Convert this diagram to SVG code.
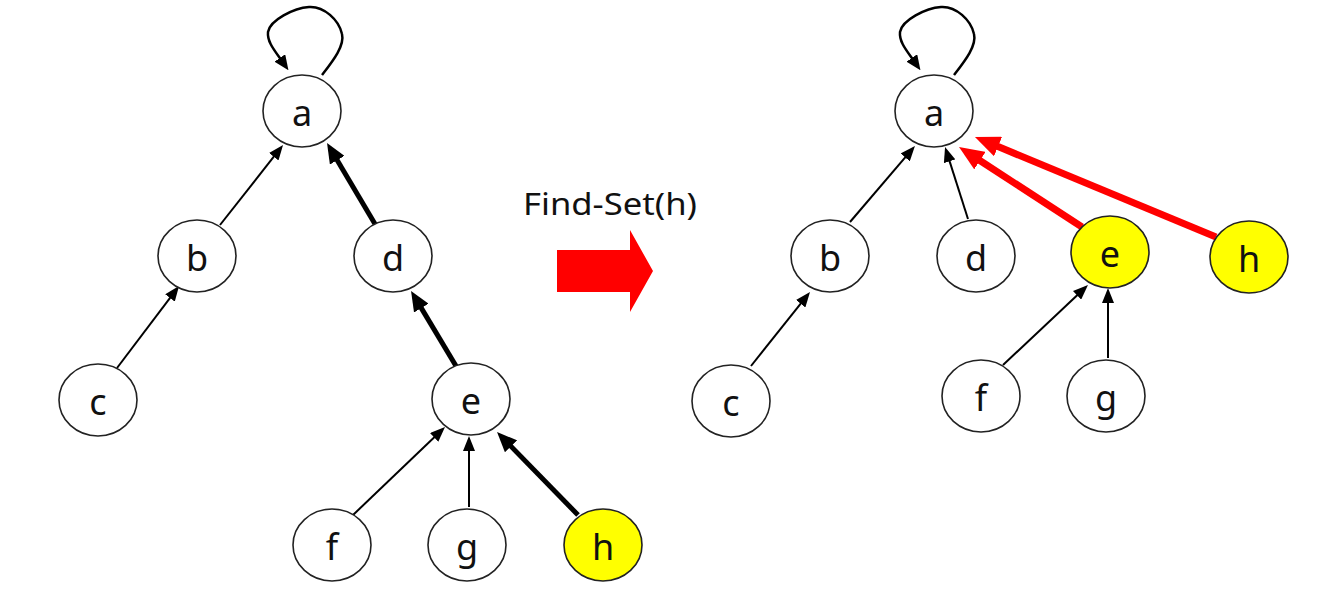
<svg xmlns="http://www.w3.org/2000/svg" width="1331" height="599" viewBox="0 0 1331 599">
<style>
.n{fill:#fff;stroke:#222;stroke-width:1.6}
.y{fill:#ffff00}
.t{font-family:"Noto Sans","Open Sans","DejaVu Sans",sans-serif;font-size:36px;fill:#111;text-anchor:middle}
.thin{stroke:#000;stroke-width:2;fill:none;marker-end:url(#ah)}
.thick{stroke:#000;stroke-width:5;fill:none;marker-end:url(#ahk)}
.red{stroke:#ff0000;stroke-width:7;fill:none;marker-end:url(#ahr)}
.loop{stroke:#000;stroke-width:2.5;fill:none;marker-end:url(#ahl)}
</style>
<defs>
<marker id="ah" markerUnits="userSpaceOnUse" markerWidth="15" markerHeight="12" refX="2" refY="6" orient="auto"><path d="M0,0 L15,6 L0,12 Z" fill="#000"/></marker>
<marker id="ahl" markerUnits="userSpaceOnUse" markerWidth="15" markerHeight="13" refX="2" refY="6.5" orient="auto"><path d="M0,0 L15,6.5 L0,13 Z" fill="#000"/></marker>
<marker id="ahk" markerUnits="userSpaceOnUse" markerWidth="20" markerHeight="17" refX="2" refY="8.5" orient="auto"><path d="M0,0 L20,8.5 L0,17 Z" fill="#000"/></marker>
<marker id="ahr" markerUnits="userSpaceOnUse" markerWidth="25" markerHeight="21" refX="2" refY="10.5" orient="auto"><path d="M0,0 L25,10.5 L0,21 Z" fill="#ff0000"/></marker>
</defs>
<rect width="1331" height="599" fill="#fff"/>
<g id="connectors">
<path class="loop" d="M322,75 C332,62 345,46 342,34 C339,20 324,6 309,7 C294,8 270,20 268,32 C267,42 275,51 281,59.6"/>
<line class="thin" x1="220" y1="225" x2="275" y2="155.2"/>
<line class="thick" x1="375" y1="224" x2="336.2" y2="158.5"/>
<line class="thin" x1="117" y1="368" x2="171.2" y2="296.4"/>
<line class="thick" x1="456" y1="366" x2="420.3" y2="306.4"/>
<line class="thin" x1="353" y1="515" x2="435.6" y2="436"/>
<line class="thin" x1="469" y1="507" x2="469" y2="449"/>
<line class="thick" x1="578" y1="515" x2="509.6" y2="444.9"/>
<path class="loop" d="M954,75 C964,62 977,46 974,34 C971,20 956,6 941,7 C926,8 902,20 900,32 C899,42 907,51 913,59.6"/>
<line class="thin" x1="850" y1="222" x2="906.5" y2="155.9"/>
<line class="thin" x1="968" y1="219" x2="949" y2="159.4"/>
<line class="red" x1="1082" y1="227" x2="978.3" y2="159.5"/>
<line class="red" x1="1216" y1="237" x2="996.2" y2="145.8"/>
<line class="thin" x1="751" y1="366" x2="801.9" y2="302.2"/>
<line class="thin" x1="1003" y1="365" x2="1078.5" y2="293.9"/>
<line class="thin" x1="1108" y1="358" x2="1108" y2="301"/>
</g>
<g id="L-a"><ellipse class="n" cx="302" cy="111" rx="39" ry="36"/><text class="t" x="302" y="126">a</text></g>
<g id="L-b"><ellipse class="n" cx="197" cy="256" rx="39" ry="36"/><text class="t" x="197" y="271">b</text></g>
<g id="L-c"><ellipse class="n" cx="98" cy="400" rx="39" ry="36"/><text class="t" x="98" y="415">c</text></g>
<g id="L-d"><ellipse class="n" cx="393" cy="256" rx="39" ry="36"/><text class="t" x="393" y="271">d</text></g>
<g id="L-e"><ellipse class="n" cx="471" cy="399" rx="39" ry="36"/><text class="t" x="471" y="414">e</text></g>
<g id="L-f"><ellipse class="n" cx="332" cy="545" rx="39" ry="36"/><text class="t" x="332" y="560">f</text></g>
<g id="L-g"><ellipse class="n" cx="467" cy="545" rx="39" ry="36"/><text class="t" x="467" y="560">g</text></g>
<g id="L-h"><ellipse class="n y" cx="603" cy="545" rx="39" ry="36"/><text class="t" x="603" y="560">h</text></g>
<g id="transition">
<text x="523" y="215" font-family="Noto Sans, Open Sans, sans-serif" font-size="31" fill="#111" textLength="174" lengthAdjust="spacingAndGlyphs">Find-Set(h)</text>
<polygon points="557,250 630,250 630,230 653,271 630,312 630,292 557,292" fill="#ff0000"/>
</g>
<g id="R-a"><ellipse class="n" cx="934" cy="111" rx="39" ry="36"/><text class="t" x="934" y="126">a</text></g>
<g id="R-b"><ellipse class="n" cx="830" cy="256" rx="39" ry="36"/><text class="t" x="830" y="271">b</text></g>
<g id="R-c"><ellipse class="n" cx="731" cy="401" rx="39" ry="36"/><text class="t" x="731" y="416">c</text></g>
<g id="R-d"><ellipse class="n" cx="976" cy="256" rx="39" ry="36"/><text class="t" x="976" y="271">d</text></g>
<g id="R-e"><ellipse class="n y" cx="1110" cy="252" rx="39" ry="36"/><text class="t" x="1110" y="267">e</text></g>
<g id="R-h"><ellipse class="n y" cx="1249" cy="257" rx="39" ry="36"/><text class="t" x="1249" y="272">h</text></g>
<g id="R-f"><ellipse class="n" cx="981" cy="396" rx="39" ry="36"/><text class="t" x="981" y="411">f</text></g>
<g id="R-g"><ellipse class="n" cx="1106" cy="396" rx="39" ry="36"/><text class="t" x="1106" y="411">g</text></g>
</svg>
